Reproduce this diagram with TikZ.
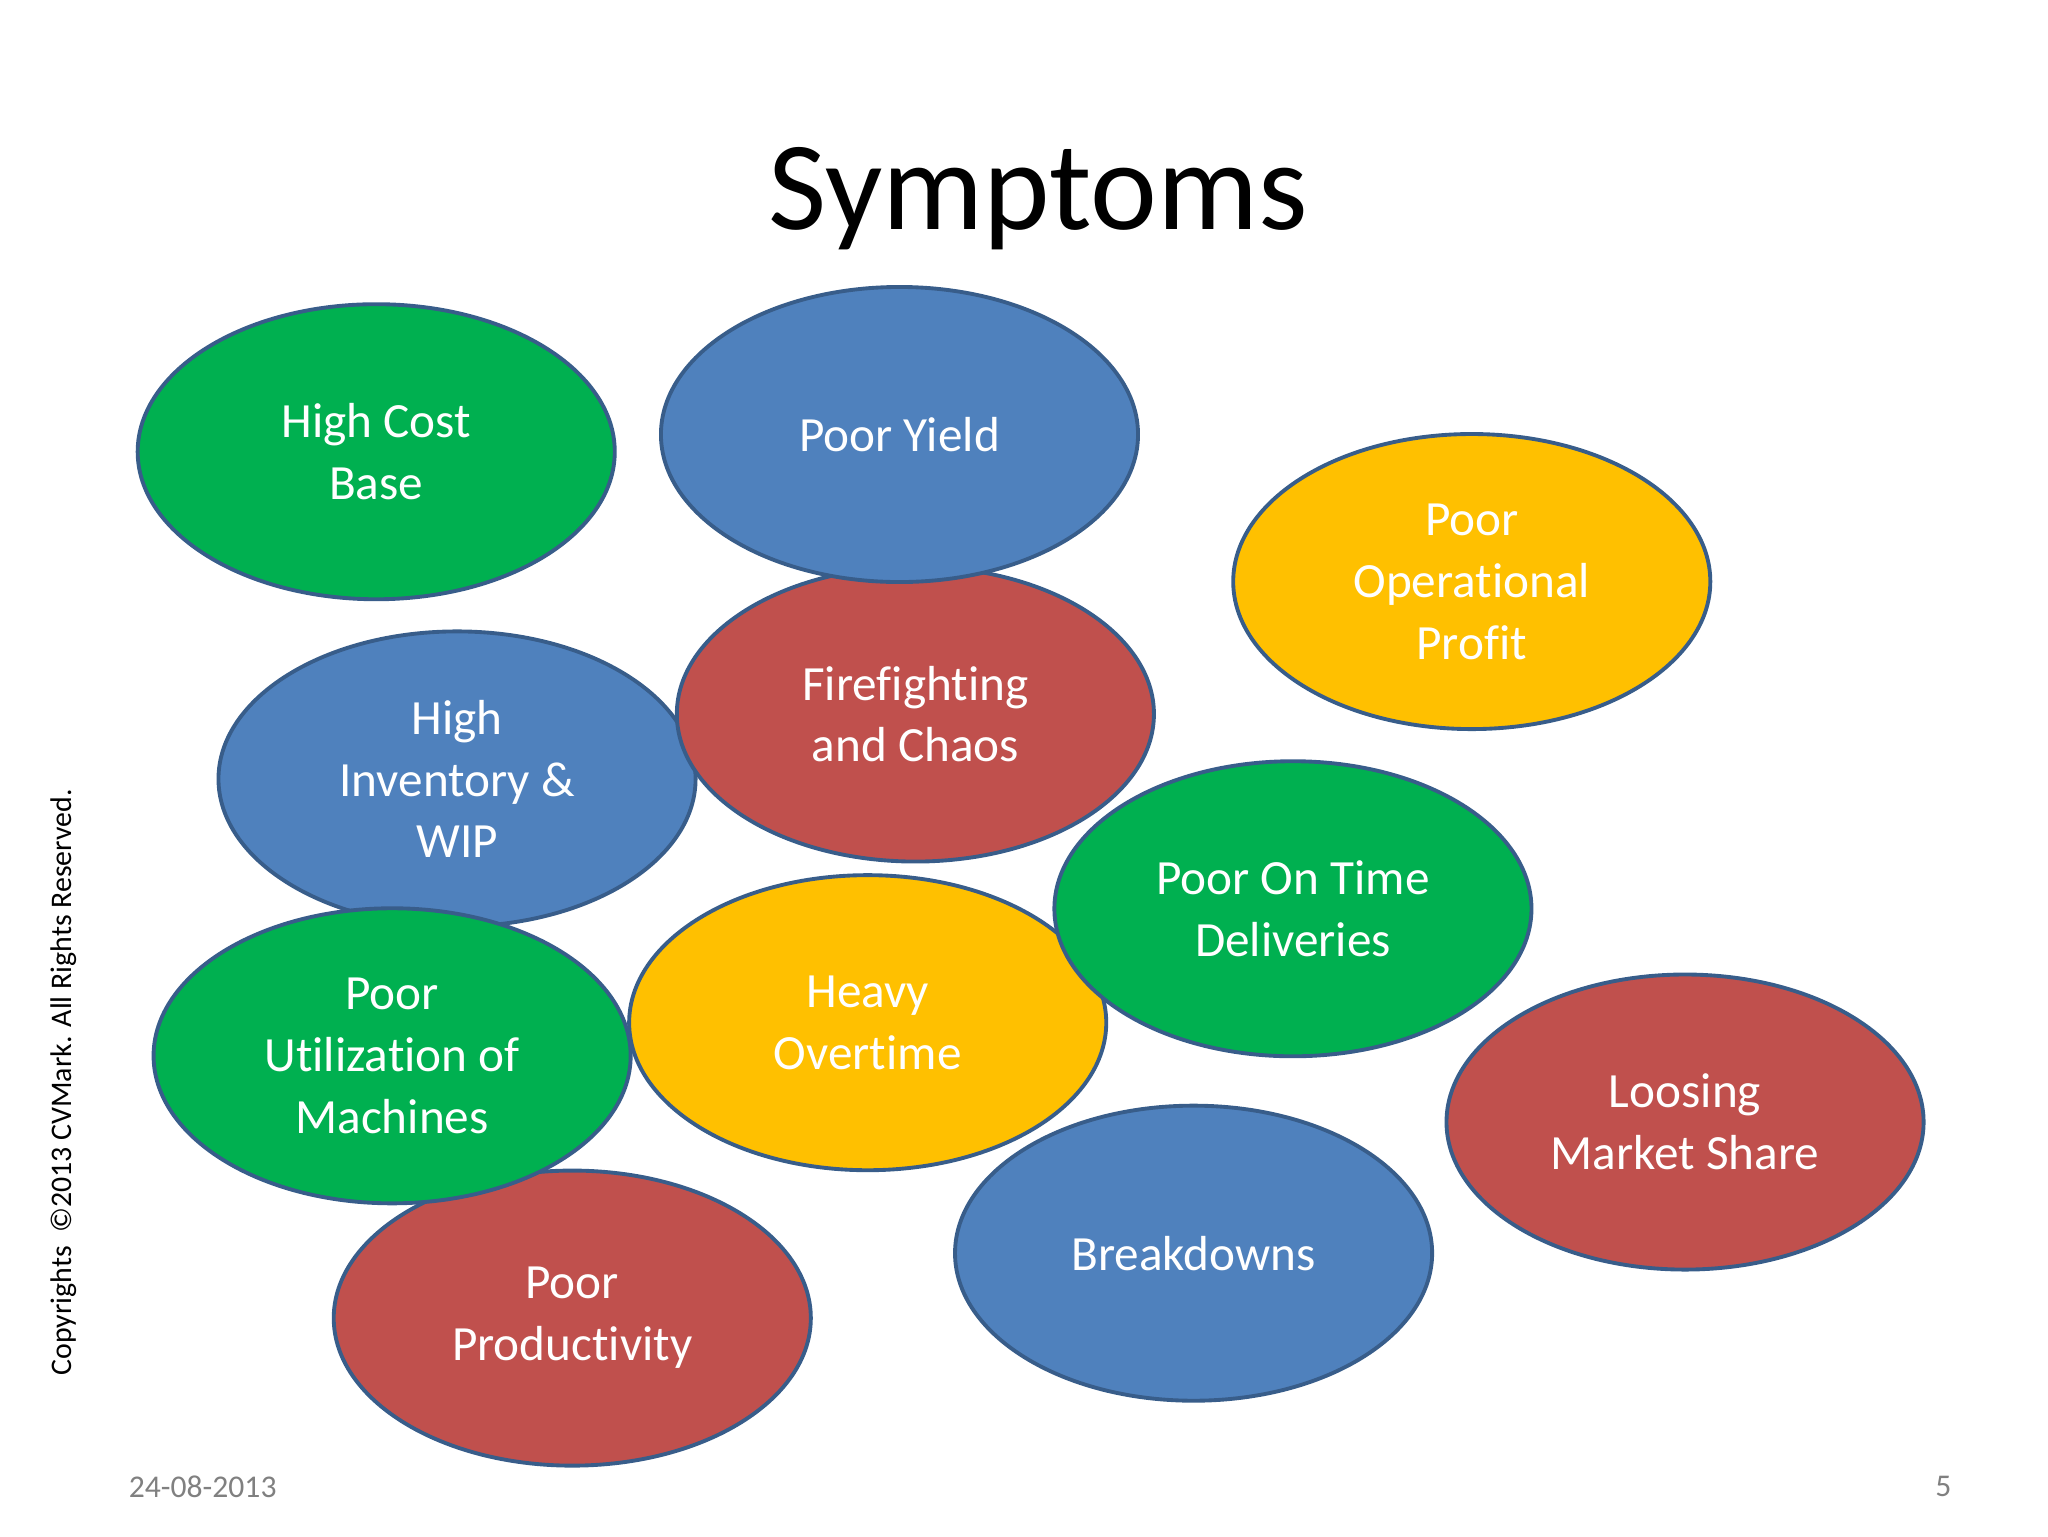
\documentclass[tikz,border=0pt]{standalone}
\usepackage{fontspec}
\setmainfont[Ligatures=NoCommon]{Carlito}
\usetikzlibrary{shapes.geometric}
\definecolor{sgreen}{HTML}{00B050}
\definecolor{sblue}{HTML}{4F81BD}
\definecolor{sred}{HTML}{C0504D}
\definecolor{syellow}{HTML}{FFC000}
\definecolor{sedge}{HTML}{385D8A}
\tikzset{
  symp/.style={ellipse, draw=sedge, line width=1.1pt, minimum width=4.77cm, minimum height=2.95cm,
    inner sep=0pt, text=white, align=center, font=\fontsize{14}{17.6}\selectfont},
  footer/.style={text=gray, font=\fontsize{9}{11}\selectfont}
}
\begin{document}
\begin{tikzpicture}[x=0.01325cm, y=-0.01325cm]
	\useasboundingbox (0,0) rectangle (1546,1160);
	%title
		\node (title) at (784,150) {\fontsize{36}{44}\selectfont Symptoms};
	%symptoms
		\node[symp, fill=sgreen]  (cost)   at (284,341) {High Cost\\Base};
		\node[symp, fill=sblue]   (inv)    at (345,588) {High\\Inventory \&\\WIP};
		\node[symp, fill=sred]    (fire)   at (691,539) {Firefighting\\and Chaos};
		\node[symp, fill=sblue]   (yield)  at (679,328) {Poor Yield};
		\node[symp, fill=syellow] (over)   at (655,772) {Heavy\\Overtime};
		\node[symp, fill=sgreen]  (otd)    at (976,686) {Poor On Time\\Deliveries};
		\node[symp, fill=sred]    (prod)   at (432,995) {Poor\\Productivity};
		\node[symp, fill=sgreen]  (util)   at (296,797) {Poor\\Utilization of\\Machines};
		\node[symp, fill=sblue]   (break)  at (901,946) {Breakdowns};
		\node[symp, fill=sred]    (market) at (1272,847) {Loosing\\Market Share};
		\node[symp, fill=syellow] (profit) at (1111,439) {Poor\\Operational\\Profit};
	%footer
		\node[rotate=90, font=\fontsize{8.5}{10}\selectfont] (copy) at (48,817) {Copyrights~~\textcopyright2013 CVMark. All Rights Reserved.};
		\node[footer] (date) at (153,1122) {24-08-2013};
		\node[footer] (page) at (1467,1122) {5};
\end{tikzpicture}
\end{document}
